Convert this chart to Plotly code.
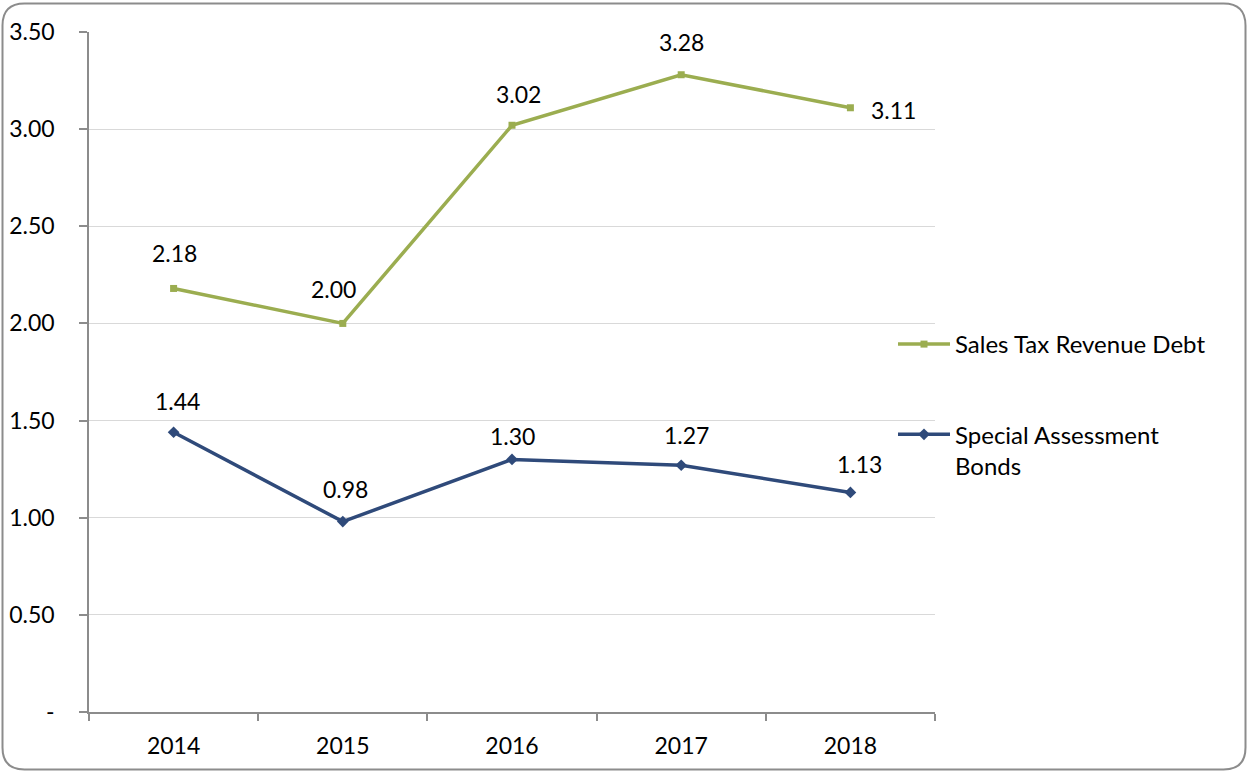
import plotly.graph_objects as go

years = ["2014", "2015", "2016", "2017", "2018"]
sales_tax = [2.18, 2.00, 3.02, 3.28, 3.11]
special_assessment = [1.44, 0.98, 1.30, 1.27, 1.13]
y_tickvals = [0, 0.5, 1.0, 1.5, 2.0, 2.5, 3.0, 3.5]
y_ticktext = ["-", "0.50", "1.00", "1.50", "2.00", "2.50", "3.00", "3.50"]

# label offsets in pixels (dx right, dy up) - styling only
sales_label_offsets = [(1, 35), (-9, 34), (6, 31), (0, 33), (43, -2)]
special_label_offsets = [(4, 31), (3, 33), (0, 23), (5, 30), (9, 28)]

GREEN = "#9BAD50"
BLUE = "#2F4A7A"
FONT = "Lato"
FS = 23

W, H = 1248, 772
L, R, T, B = 89, 313, 32, 60
pw, ph = W - L - R, H - T - B

fig = go.Figure()
fig.add_trace(go.Scatter(
    x=years, y=sales_tax, mode="lines+markers", name="Sales Tax Revenue Debt",
    line=dict(color=GREEN, width=3.5), marker=dict(symbol="square", size=7, color=GREEN),
    legendgroup="a",
))
fig.add_trace(go.Scatter(
    x=years, y=special_assessment, mode="lines+markers", name="Special Assessment<br>Bonds",
    line=dict(color=BLUE, width=3.5), marker=dict(symbol="diamond", size=9, color=BLUE),
    legendgroup="b",
))

# data labels (category axis annotations use the category index)
for series, offsets in ((sales_tax, sales_label_offsets), (special_assessment, special_label_offsets)):
    for i, (v, (dx, dy)) in enumerate(zip(series, offsets)):
        fig.add_annotation(x=i, y=v, xref="x", yref="y", text=f"{v:.2f}", showarrow=False,
                           xanchor="center", yanchor="middle", xshift=dx, yshift=dy,
                           font=dict(family=FONT, size=FS, color="#000000"))

def px(x):
    return (x - L) / pw

def py(y):
    return (H - B - y) / ph

# rounded border
x0, x1, y0, y1, r = 2.5, 1245.5, 3.5, 769.5, 22
path = (
    f"M {px(x0 + r)},{py(y0)} L {px(x1 - r)},{py(y0)} "
    f"Q {px(x1)},{py(y0)} {px(x1)},{py(y0 + r)} "
    f"L {px(x1)},{py(y1 - r)} Q {px(x1)},{py(y1)} {px(x1 - r)},{py(y1)} "
    f"L {px(x0 + r)},{py(y1)} Q {px(x0)},{py(y1)} {px(x0)},{py(y1 - r)} "
    f"L {px(x0)},{py(y0 + r)} Q {px(x0)},{py(y0)} {px(x0 + r)},{py(y0)} Z"
)
fig.add_shape(type="path", path=path, xref="paper", yref="paper",
              line=dict(color="#8C8C8C", width=2), layer="above")

fig.update_layout(
    width=W, height=H,
    margin=dict(l=L, r=R, t=T, b=B),
    paper_bgcolor="white", plot_bgcolor="white",
    font=dict(family=FONT, size=FS, color="#000000"),
    showlegend=True,
    legend=dict(x=px(893), y=py(322), xanchor="left", yanchor="top",
                tracegroupgap=56, itemwidth=52, valign="top",
                font=dict(family=FONT, size=24),
                bgcolor="rgba(0,0,0,0)"),
    xaxis=dict(type="category", tickson="boundaries", ticks="outside", ticklen=7,
               tickcolor="#8C8C8C", tickwidth=1.5, showline=True, linecolor="#8C8C8C",
               linewidth=1.5, showgrid=False, zeroline=False, automargin=False,
               range=[-0.5, 4.5], ticklabelstandoff=13,
               tickfont=dict(family=FONT, size=FS)),
    yaxis=dict(range=[0, 3.5], tickvals=y_tickvals, ticktext=y_ticktext,
               ticks="outside", ticklen=8, tickcolor="#8C8C8C", tickwidth=1.5,
               showline=True, linecolor="#8C8C8C", linewidth=1.5, automargin=False,
               showgrid=True, gridcolor="#D9D9D9", gridwidth=1, zeroline=False,
               ticklabelstandoff=20, tickfont=dict(family=FONT, size=FS)),
)

fig.write_html("out.html")
